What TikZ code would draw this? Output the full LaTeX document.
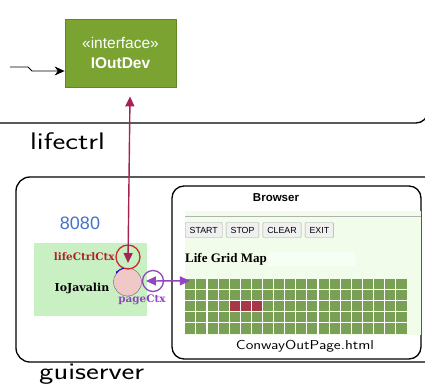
\documentclass[tikz,border=0pt]{standalone}
\usepackage{fontspec}
\usetikzlibrary{arrows.meta, positioning}
\newfontfamily\arialfont{Liberation Sans}
\newfontfamily\timesfont{Liberation Serif}
\newfontfamily\slabfont{DejaVu Serif}
\newcommand\handtext[1]{\scalebox{1.27}[1]{#1}}

\definecolor{ifacegreen}{RGB}{122,163,50}
\definecolor{ifaceedge}{RGB}{95,135,35}
\definecolor{linkred}{RGB}{165,35,85}
\definecolor{ctxred}{RGB}{200,45,45}
\definecolor{ctxtext}{RGB}{175,35,40}
\definecolor{pagepurple}{RGB}{145,70,190}
\definecolor{pinkfill}{RGB}{240,200,200}
\definecolor{javgreen}{RGB}{200,240,195}
\definecolor{pagebg}{RGB}{242,252,235}
\definecolor{cellgreen}{RGB}{122,160,85}
\definecolor{cellred}{RGB}{168,55,72}
\definecolor{portblue}{RGB}{70,115,200}

\begin{document}
\begin{tikzpicture}[x=1pt, y=-1pt,
    iface/.style={draw=ifaceedge, fill=ifacegreen, text=white, align=center,
                  minimum width=111pt, minimum height=68pt, line width=0.8pt,
                  font=\arialfont\fontsize{15.5}{20}\selectfont},
    area/.style={draw, line width=1.3pt, rounded corners=13pt},
    hand/.style={font=\sffamily\fontsize{24}{26}\selectfont, inner sep=0pt},
    btn/.style={draw=gray!70, fill=gray!12, inner xsep=4.5pt, inner ysep=0pt,
                minimum height=15pt, rounded corners=1pt,
                font=\arialfont\fontsize{8.8}{10}\selectfont},
    ctxlabel/.style={font=\slabfont\bfseries\fontsize{10.4}{11}\selectfont, inner sep=0pt},
    gridmap/.style={fill=cellgreen, minimum width=222pt, minimum height=55pt, inner sep=0pt},
    >={Triangle[length=10pt, width=9pt]}
  ]
  \useasboundingbox[fill=white] (0,0) rectangle (425,385);

  % lifectrl area
  \draw[area, rounded corners=12pt] (-5,123) -- (428,123) -- (428,-5);
  \node[hand, anchor=west] (lctrl) at (30,141) {\handtext{lifectrl}};

  \node[iface] (ioutdev) at (120.5,53) {«interface»\\\textbf{IOutDev}};
  \coordinate (devin) at (10,67);
  \draw[-{Stealth[length=10pt, width=9pt]}, line width=0.9pt]
    (devin) -- ++(18,0) -- ++(4,4) -- ([yshift=-18pt]ioutdev.west);

  % guiserver area
  \draw[area, rounded corners=14pt] (16,177) rectangle (445,362);
  \node[hand, anchor=west] (gsrv) at (39,374) {\handtext{guiserver}};

  \node[font=\arialfont\fontsize{18}{20}\selectfont, text=portblue] (port) at (80,223) {8080};
  \fill[javgreen] (34,243) rectangle (147,316);

  % browser
  \draw[area, rounded corners=12pt] (172,186) rectangle (421,359);
  \node[font=\arialfont\bfseries\fontsize{11.5}{13}\selectfont] (brw) at (276,198) {Browser};
  \fill[pagebg] (185,211) rectangle (421,335);
  \draw[gray!60, line width=1pt] (185,216) -- (421,216);

  \node[btn, anchor=west] (start) at (185,230) {START};
  \node[btn, right=3.5pt of start] (stop) {STOP};
  \node[btn, right=3.5pt of stop] (clear) {CLEAR};
  \node[btn, right=3.5pt of clear] (exit) {EXIT};

  \node[font=\timesfont\bfseries\fontsize{13}{15}\selectfont, anchor=west, inner sep=0pt]
    (title) at (185,259) {Life Grid Map};
  \fill[green!4] (268,252) rectangle (355,266);

  \node[gridmap] (grid) at (296,306.5) {};
  \fill[cellred] ([xshift=44.4pt, yshift=-22pt]grid.north west) rectangle ++(33.3,11);
  \foreach \i in {1,...,19}
    \draw[white, line width=1.1pt] ([xshift=\i*11.1pt]grid.north west) -- ([xshift=\i*11.1pt]grid.south west);
  \foreach \j in {1,...,4}
    \draw[white, line width=1.1pt] ([yshift=-\j*11pt]grid.north west) -- ([yshift=-\j*11pt]grid.north east);

  \node[font=\sffamily\fontsize{13}{15}\selectfont] (page) at (305,346) {\scalebox{1.2}[1]{ConwayOutPage.html}};

  % IoJavalin and contexts
  \node[circle, fill=pinkfill, draw=gray!80!black, minimum size=28pt] (jav) at (127.5,282) {};
  \node[circle, draw=ctxred, line width=1.3pt, minimum size=24pt] (lcc) at (128,257) {};
  \node[circle, draw=pagepurple, line width=1.3pt, minimum size=21pt] (pc) at (153,281) {};

  \node[ctxlabel, text=ctxtext, left=0.5pt of lcc] (lcclabel) {lifeCtrlCtx};
  \node[ctxlabel, font=\slabfont\bfseries\fontsize{11}{12}\selectfont] (javlabel) at (82,288) {IoJavalin};
  \node[ctxlabel, text=pagepurple] (pclabel) at (142,300) {pageCtx};

  \draw[-{Stealth[length=3pt]}, blue!70!violet, line width=0.9pt] (jav.105) to[bend right=25] (jav.145);

  \coordinate (lccin) at (128,263);
  \draw[linkred, line width=1.4pt, <->] (lccin) -- ([xshift=9.5pt, yshift=-9pt]ioutdev.south);
  \draw[pagepurple, line width=1.4pt, <->] ([xshift=-7pt]pc.center) -- ([xshift=5pt, yshift=-2pt]grid.north west);
\end{tikzpicture}
\end{document}
